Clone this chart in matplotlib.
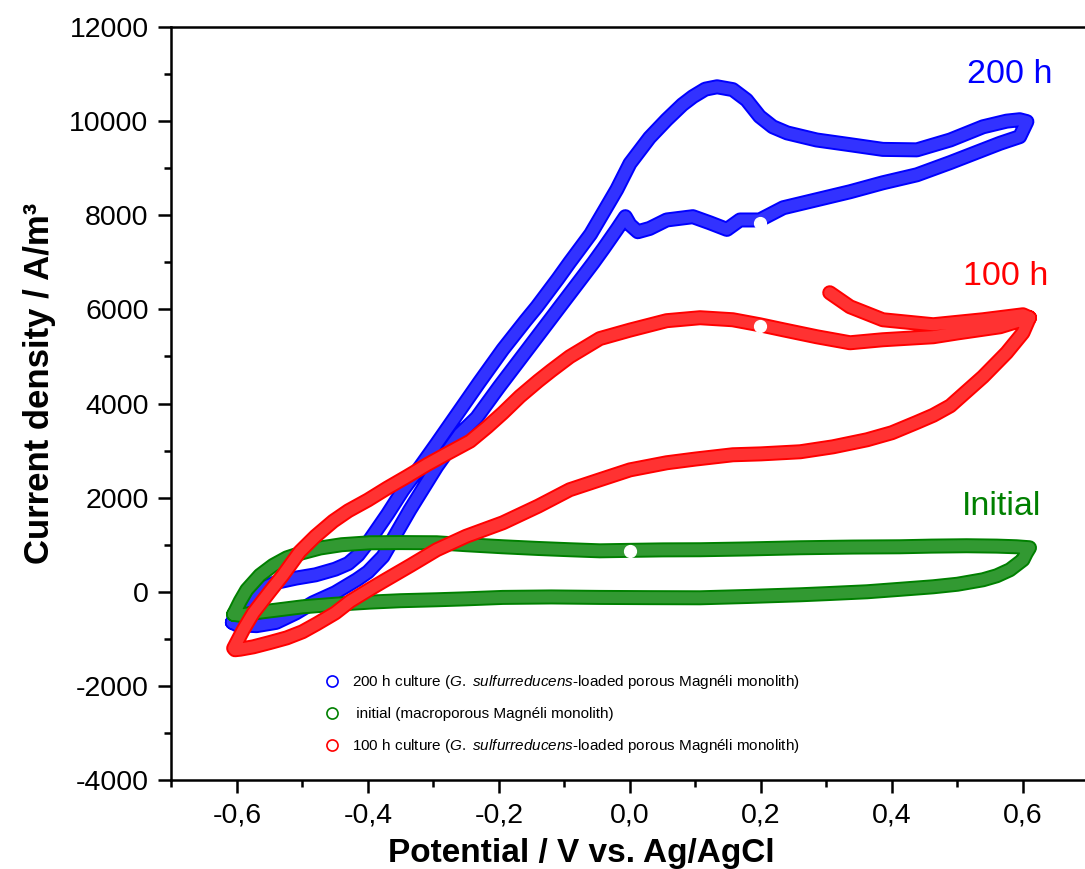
import matplotlib
matplotlib.use('Agg')
import matplotlib.pyplot as plt
from matplotlib.lines import Line2D
from matplotlib.ticker import MultipleLocator, FuncFormatter
from matplotlib import font_manager

# ---- data (potential in V, current density in A/m3) ----
# 200 h culture, forward scan then reverse scan
blue_v = [-0.607, -0.60, -0.585, -0.565, -0.54, -0.51, -0.48, -0.45, -0.43, -0.415, -0.397,
          -0.37, -0.347, -0.32, -0.295, -0.26, -0.23, -0.194, -0.16, -0.142, -0.11, -0.092,
          -0.06, -0.041, -0.02, 0.0, 0.03, 0.056, 0.08, 0.096, 0.115, 0.133, 0.157, 0.178,
          0.198, 0.218, 0.24, 0.285, 0.336, 0.386, 0.438, 0.489, 0.539, 0.575, 0.595, 0.606,
          0.595, 0.565, 0.539, 0.489, 0.438, 0.386, 0.336, 0.285, 0.234, 0.198, 0.168, 0.148,
          0.122, 0.096, 0.056, 0.03, 0.012, 0.0, -0.007, -0.02, -0.04, -0.056, -0.08, -0.107,
          -0.14, -0.17, -0.20, -0.234, -0.26, -0.295, -0.336, -0.377, -0.40, -0.417, -0.45,
          -0.484, -0.51, -0.54, -0.57, -0.60, -0.607]
blue_j = [-650, -500, -200, 50, 200, 290, 360, 480, 600, 780, 1105,
          1650, 2150, 2660, 3150, 3850, 4450, 5150, 5750, 6056, 6650, 7000,
          7600, 8050, 8550, 9100, 9650, 10030, 10350, 10520, 10680, 10730, 10670, 10450,
          10100, 9880, 9750, 9600, 9500, 9400, 9390, 9600, 9880, 10000, 10030, 9990,
          9670, 9530, 9390, 9120, 8860, 8690, 8500, 8330, 8160, 7900, 7900, 7700,
          7840, 7970, 7900, 7720, 7650, 7800, 7970, 7700, 7300, 6990, 6550, 6056,
          5450, 4900, 4350, 3700, 3350, 2660, 1740, 750, 420, 255, -20,
          -234, -450, -650, -720, -700, -650]

# initial (macroporous Magneli monolith)
green_v = [-0.605, -0.595, -0.585, -0.565, -0.545, -0.524, -0.50, -0.473, -0.44, -0.397,
           -0.35, -0.295, -0.25, -0.194, -0.14, -0.092, -0.046, 0.0, 0.05, 0.107, 0.18,
           0.26, 0.34, 0.412, 0.46, 0.514, 0.56, 0.59, 0.61,
           0.605, 0.60, 0.58, 0.56, 0.539, 0.50, 0.463, 0.41, 0.362, 0.30, 0.26, 0.18,
           0.107, 0.03, -0.046, -0.12, -0.194, -0.25, -0.295, -0.35, -0.397, -0.45, -0.50,
           -0.54, -0.575, -0.595, -0.605]
green_j = [-480, -200, 40, 350, 560, 720, 830, 930, 1000, 1041,
           1045, 1041, 1000, 956, 920, 893, 870, 880, 890, 893, 910,
           935, 950, 956, 970, 978, 970, 956, 935,
           820, 680, 467, 340, 255, 160, 106, 50, 0, -40, -64, -100,
           -128, -125, -120, -110, -120, -150, -170, -190, -220, -265, -320,
           -390, -450, -500, -480]

# 100 h culture: starts at 0.3 V, reverse to -0.6 V, forward back to 0.6 V
red_v = [0.305, 0.336, 0.386, 0.463, 0.539, 0.60, 0.61,
         0.60, 0.575, 0.539, 0.489, 0.463, 0.438, 0.40, 0.362, 0.31, 0.26, 0.20, 0.157,
         0.10, 0.056, 0.0, -0.046, -0.092, -0.14, -0.194, -0.25, -0.295, -0.335, -0.377,
         -0.40, -0.427, -0.45, -0.478, -0.50, -0.524, -0.55, -0.575, -0.595, -0.603,
         -0.605, -0.59, -0.575, -0.55, -0.53, -0.504, -0.48, -0.453, -0.43, -0.40, -0.371,
         -0.34, -0.31, -0.28, -0.244, -0.218, -0.194, -0.168, -0.14, -0.12, -0.092,
         -0.046, 0.0, 0.056, 0.107, 0.157, 0.198, 0.234, 0.285, 0.336, 0.386, 0.463,
         0.50, 0.565, 0.60, 0.61]
red_j = [6354, 6056, 5780, 5674, 5780, 5886, 5823,
         5504, 5079, 4569, 3950, 3750, 3600, 3380, 3230, 3080, 2975, 2930, 2911,
         2820, 2741, 2590, 2380, 2168, 1820, 1466, 1180, 893, 560, 220,
         30, -200, -450, -680, -850, -980, -1080, -1170, -1220, -1232,
         -1200, -800, -450, 0, 350, 850, 1180, 1500, 1720, 1950, 2200,
         2450, 2700, 2930, 3200, 3500, 3800, 4150, 4480, 4700, 4994,
         5380, 5560, 5760, 5823, 5780, 5674, 5567, 5419, 5291, 5355, 5419,
         5500, 5631, 5780, 5823]

# white dots sitting on the curves
dot_v = [0.198, 0.0, 0.198]
dot_j = [7840, 870, 5650]

labels = [r'200 h culture ($\it{G.}$ $\it{sulfurreducens}$-loaded porous Magnéli monolith)',
          r' initial (macroporous Magnéli monolith)',
          r'100 h culture ($\it{G.}$ $\it{sulfurreducens}$-loaded porous Magnéli monolith)']
colors = ['#0000ff', '#008000', '#ff0000']

# ---- fonts ----
plt.rcParams['font.family'] = ['Liberation Sans', 'DejaVu Sans']
try:
    font_manager.findfont('Liberation Sans Narrow', fallback_to_default=False)
    leg_family = 'Liberation Sans Narrow'
    leg_size = 13
except Exception:
    leg_family = 'Liberation Sans'
    leg_size = 11
plt.rcParams['mathtext.fontset'] = 'custom'
plt.rcParams['mathtext.rm'] = leg_family
plt.rcParams['mathtext.it'] = leg_family + ':italic'

fig = plt.figure(figsize=(10.85, 8.69), dpi=100)
ax = fig.add_axes([0.158, 0.1024, 0.8452, 0.8665])


def tube(x, y, color, z):
    # densely packed open circles look like a hollow band
    ax.plot(x, y, color=color, lw=10.8, solid_joinstyle='round',
            solid_capstyle='round', zorder=z)
    ax.plot(x, y, color='white', lw=8.0, alpha=0.2, solid_joinstyle='round',
            solid_capstyle='round', zorder=z + 0.1)


tube(blue_v, blue_j, colors[0], 2)
tube(green_v, green_j, colors[1], 3)
tube(red_v, red_j, colors[2], 4)
ax.plot(dot_v, dot_j, 'o', ms=8.5, mfc='white', mec='white', zorder=6)

ax.set_xlim(-0.7, 0.7)
ax.set_ylim(-4000, 12000)
ax.xaxis.set_major_locator(MultipleLocator(0.2))
ax.xaxis.set_minor_locator(MultipleLocator(0.1))
ax.yaxis.set_major_locator(MultipleLocator(2000))
ax.yaxis.set_minor_locator(MultipleLocator(1000))
ax.xaxis.set_major_formatter(FuncFormatter(lambda v, p: ('%.1f' % v).replace('.', ',').replace('-0,0', '0,0')))
ax.yaxis.set_major_formatter(FuncFormatter(lambda v, p: '%d' % v))
ax.tick_params(which='both', direction='out', width=1.8, labelsize=20.5, pad=7)
ax.tick_params(which='major', length=9.5)
ax.tick_params(which='minor', length=5)
ax.tick_params(top=False, right=False)
for s in ax.spines.values():
    s.set_linewidth(1.8)
ax.spines['right'].set_visible(False)

fig.text(49 / 1085, 1 - 383 / 869, 'Current density / A/m³', rotation=90,
         rotation_mode='anchor', ha='center', va='baseline', fontsize=25, fontweight='bold')
fig.text(581 / 1085, 1 - 862 / 869, 'Potential / V vs. Ag/AgCl', ha='center',
         va='baseline', fontsize=24, fontweight='bold')

fig.text(967 / 1085, 1 - 83 / 869, '200 h', color=colors[0], fontsize=24.5)
fig.text(963 / 1085, 1 - 285 / 869, '100 h', color=colors[2], fontsize=24.5)
fig.text(962 / 1085, 1 - 515 / 869, 'Initial', color=colors[1], fontsize=24.5)

handles = [Line2D([], [], ls='none', marker='o', ms=8, mfc='none', mec=c, mew=1.2)
           for c in colors]
leg = ax.legend(handles, labels, loc='upper left', bbox_to_anchor=(0.16, 0.15),
                frameon=False, handlelength=1.0, handletextpad=0.8, labelspacing=1.05,
                prop={'family': leg_family, 'size': leg_size}, borderaxespad=0)

fig.savefig('out.png', dpi=100)
